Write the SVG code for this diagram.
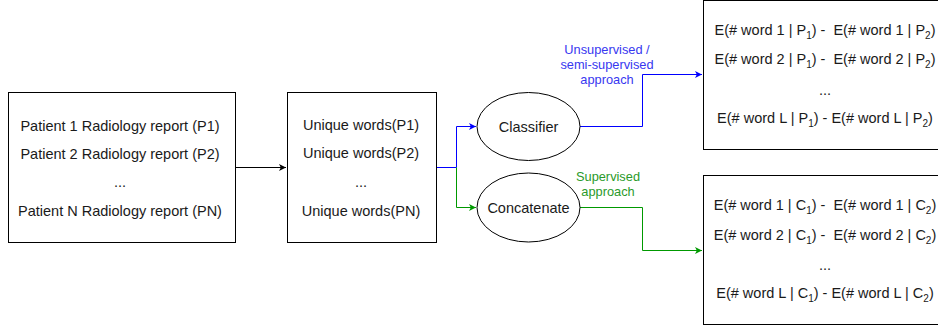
<svg xmlns="http://www.w3.org/2000/svg" width="938" height="330" viewBox="0 0 938 330">
  <style>
    .box { fill: #ffffff; stroke: #000000; stroke-width: 1; }
    .t { font-family: "Liberation Sans", Arial, sans-serif; font-size: 14.5px; fill: #1a1a1a; text-anchor: middle; white-space: pre; }
    .sub { font-size: 10px; }
    .lbl { font-family: "Liberation Sans", Arial, sans-serif; font-size: 12.8px; text-anchor: middle; }
    .blue { fill: #3838f0; }
    .green { fill: #2a9a2a; }
    .edge { fill: none; stroke-width: 1; }
  </style>
  <defs>
    <marker id="arrowBlack" markerWidth="8" markerHeight="8" refX="7" refY="4" orient="auto" markerUnits="userSpaceOnUse">
      <path d="M0,0.5 L7,4 L0,7.5 L1.8,4 Z" fill="#000000"/>
    </marker>
    <marker id="arrowBlue" markerWidth="8" markerHeight="8" refX="7" refY="4" orient="auto" markerUnits="userSpaceOnUse">
      <path d="M0,0.5 L7,4 L0,7.5 L1.8,4 Z" fill="#0000ff"/>
    </marker>
    <marker id="arrowGreen" markerWidth="8" markerHeight="8" refX="7" refY="4" orient="auto" markerUnits="userSpaceOnUse">
      <path d="M0,0.5 L7,4 L0,7.5 L1.8,4 Z" fill="#009900"/>
    </marker>
  </defs>

  <!-- connectors -->
  <g id="connectors">
    <path class="edge" d="M235.5,167.5 H286" stroke="#000000" marker-end="url(#arrowBlack)"/>
    <path class="edge" d="M436.5,167.5 H456.5 V126.5 H476" stroke="#0000ff" marker-end="url(#arrowBlue)"/>
    <path class="edge" d="M456.5,167.5 V207.5 H476" stroke="#009900" marker-end="url(#arrowGreen)"/>
    <path class="edge" d="M580,126.5 H642.5 V74.5 H702" stroke="#0000ff" marker-end="url(#arrowBlue)"/>
    <path class="edge" d="M580,207.5 H642.5 V250.5 H702" stroke="#009900" marker-end="url(#arrowGreen)"/>
    <g id="label-unsupervised" class="lbl blue">
      <text x="607" y="54">Unsupervised /</text>
      <text x="607" y="69">semi-supervised</text>
      <text x="607" y="84">approach</text>
    </g>
    <g id="label-supervised" class="lbl green">
      <text x="608" y="181">Supervised</text>
      <text x="608" y="196">approach</text>
    </g>
  </g>

  <!-- radiology reports -->
  <g id="reports">
    <rect class="box" x="8.5" y="92.5" width="227" height="150"/>
    <text class="t" x="120" y="131">Patient 1 Radiology report (P1)</text>
    <text class="t" x="120" y="159">Patient 2 Radiology report (P2)</text>
    <text class="t" x="120" y="187">...</text>
    <text class="t" x="120" y="216">Patient N Radiology report (PN)</text>
  </g>

  <!-- unique words -->
  <g id="unique-words">
    <rect class="box" x="287.5" y="92.5" width="149" height="150"/>
    <text class="t" x="361" y="130">Unique words(P1)</text>
    <text class="t" x="361" y="158">Unique words(P2)</text>
    <text class="t" x="361" y="187">...</text>
    <text class="t" x="361" y="216">Unique words(PN)</text>
  </g>

  <!-- classifier -->
  <g id="classifier">
    <ellipse class="box" cx="528.5" cy="126.5" rx="51.5" ry="34"/>
    <text class="t" x="528.5" y="131.5">Classifier</text>
  </g>

  <!-- concatenate -->
  <g id="concatenate">
    <ellipse class="box" cx="528.5" cy="207.5" rx="51.5" ry="34.5"/>
    <text class="t" x="528.5" y="212.5">Concatenate</text>
  </g>

  <!-- expectation differences per patient -->
  <g id="patient-differences">
    <rect class="box" x="703.5" y="0.5" width="245" height="149"/>
    <text class="t" x="825" y="35">E(# word 1 | P<tspan class="sub" dy="4">1</tspan><tspan dy="-4">) -  E(# word 1 | P</tspan><tspan class="sub" dy="4">2</tspan><tspan dy="-4">)</tspan></text>
    <text class="t" x="825" y="64">E(# word 2 | P<tspan class="sub" dy="4">1</tspan><tspan dy="-4">) -  E(# word 2 | P</tspan><tspan class="sub" dy="4">2</tspan><tspan dy="-4">)</tspan></text>
    <text class="t" x="825" y="95">...</text>
    <text class="t" x="825" y="123">E(# word L | P<tspan class="sub" dy="4">1</tspan><tspan dy="-4">) - E(# word L | P</tspan><tspan class="sub" dy="4">2</tspan><tspan dy="-4">)</tspan></text>
  </g>

  <!-- expectation differences per class -->
  <g id="class-differences">
    <rect class="box" x="703.5" y="175.5" width="245" height="149"/>
    <text class="t" x="825" y="210">E(# word 1 | C<tspan class="sub" dy="4">1</tspan><tspan dy="-4">) -  E(# word 1 | C</tspan><tspan class="sub" dy="4">2</tspan><tspan dy="-4">)</tspan></text>
    <text class="t" x="825" y="240">E(# word 2 | C<tspan class="sub" dy="4">1</tspan><tspan dy="-4">) -  E(# word 2 | C</tspan><tspan class="sub" dy="4">2</tspan><tspan dy="-4">)</tspan></text>
    <text class="t" x="825" y="270">...</text>
    <text class="t" x="825" y="298">E(# word L | C<tspan class="sub" dy="4">1</tspan><tspan dy="-4">) - E(# word L | C</tspan><tspan class="sub" dy="4">2</tspan><tspan dy="-4">)</tspan></text>
  </g>
</svg>
